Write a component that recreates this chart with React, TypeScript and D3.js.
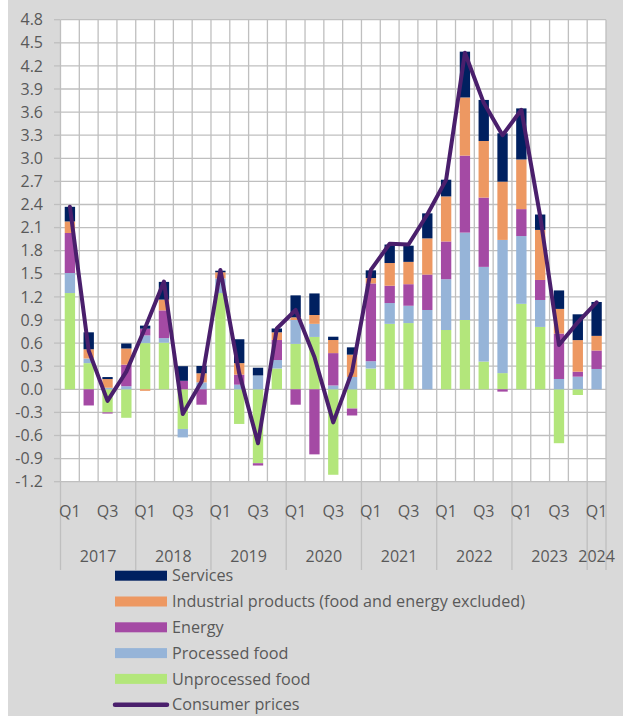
import React from "react";
import * as d3 from "d3";

const quarters = [
  "2017Q1","2017Q2","2017Q3","2017Q4",
  "2018Q1","2018Q2","2018Q3","2018Q4",
  "2019Q1","2019Q2","2019Q3","2019Q4",
  "2020Q1","2020Q2","2020Q3","2020Q4",
  "2021Q1","2021Q2","2021Q3","2021Q4",
  "2022Q1","2022Q2","2022Q3","2022Q4",
  "2023Q1","2023Q2","2023Q3","2023Q4",
  "2024Q1",
];
const quarterTickLabels = ["Q1", "", "Q3", ""];
const years = ["2017", "2018", "2019", "2020", "2021", "2022", "2023", "2024"];
const yTicks = [-1.2, -0.9, -0.6, -0.3, 0, 0.3, 0.6, 0.9, 1.2, 1.5, 1.8, 2.1, 2.4, 2.7, 3.0, 3.3, 3.6, 3.9, 4.2, 4.5, 4.8];

const unprocessedFood = [1.25, 0.34, -0.30, -0.37, 0.60, 0.605, -0.515, 0, 1.25, -0.45, -0.96, 0.27, 0.59, 0.68, -1.11, -0.25, 0.27, 0.85, 0.86, 0, 0.77, 0.90, 0.36, 0.21, 1.11, 0.81, -0.70, -0.074, 0];
const processedFood = [0.26, 0.06, 0.02, 0.04, 0.10, 0.06, -0.11, 0.09, 0.19, 0.06, 0.18, 0.11, 0.31, 0.17, 0.05, 0.16, 0.095, 0.27, 0.225, 1.03, 0.66, 1.135, 1.23, 1.73, 0.88, 0.35, 0.134, 0.164, 0.264];
const energy = [0.52, -0.21, -0.015, 0.28, 0.087, 0.36, 0.11, -0.20, 0, 0.13, -0.03, 0.26, -0.20, -0.845, 0.42, -0.09, 1.01, 0.225, 0.28, 0.46, 0.49, 1.0, 0.90, -0.03, 0.35, 0.26, 0.59, 0.065, 0.24];
const industrialProducts = [0.15, 0.12, 0.113, 0.21, -0.02, 0.14, 0, 0.118, 0.08, 0.15, 0, 0.10, 0.035, 0.115, 0.17, 0.29, 0.07, 0.295, 0.29, 0.47, 0.585, 0.755, 0.735, 0.757, 0.645, 0.65, 0.32, 0.41, 0.19];
const services = [0.19, 0.22, 0.026, 0.065, 0.04, 0.23, 0.19, 0.095, 0.02, 0.31, 0.10, 0.05, 0.285, 0.28, 0.043, 0.095, 0.10, 0.24, 0.21, 0.325, 0.217, 0.595, 0.533, 0.628, 0.663, 0.20, 0.24, 0.335, 0.44];
const consumerPrices = [2.37, 0.50, -0.15, 0.23, 0.80, 1.40, -0.32, 0.10, 1.55, 0.21, -0.70, 0.79, 1.03, 0.42, -0.43, 0.23, 1.55, 1.89, 1.88, 2.27, 2.72, 4.37, 3.72, 3.30, 3.63, 2.25, 0.575, 0.87, 1.13];

const seriesKeys = ["unprocessed", "processed", "energy", "industrial", "services"];
const seriesColors: Record<string, string> = {
  services: "#002060",
  industrial: "#ED9862",
  energy: "#A44AA4",
  processed: "#96B4D8",
  unprocessed: "#B3E67B",
};
const legendItems = [
  { key: "services", label: "Services" },
  { key: "industrial", label: "Industrial products (food and energy excluded)" },
  { key: "energy", label: "Energy" },
  { key: "processed", label: "Processed food" },
  { key: "unprocessed", label: "Unprocessed food" },
  { key: "line", label: "Consumer prices" },
];

const W = 628;
const H = 716;
const plotLeft = 60.5;
const plotRight = 606;
const plotTop = 19.7;
const plotBottom = 481.7;
const lineColor = "#4A1F6C";
const gridColor = "#BFBFBF";
const textColor = "#595959";
const font = "'Open Sans', Lato, 'DejaVu Sans', sans-serif";

export default function App() {
  const rows = quarters.map((q, i) => ({
    q,
    unprocessed: unprocessedFood[i],
    processed: processedFood[i],
    energy: energy[i],
    industrial: industrialProducts[i],
    services: services[i],
  }));

  const x = d3
    .scaleBand<string>()
    .domain(quarters)
    .range([plotLeft, plotRight])
    .paddingInner(0.45)
    .paddingOuter(0.225);
  const xb = d3.scaleLinear().domain([0, quarters.length]).range([plotLeft, plotRight]);
  const y = d3.scaleLinear().domain([-1.2, 4.8]).range([plotBottom, plotTop]);
  const bw = x.bandwidth();

  const stacked = d3
    .stack<any>()
    .keys(seriesKeys)
    .offset(d3.stackOffsetDiverging)(rows);

  const line = d3
    .line<number>()
    .x((_, i) => (x(quarters[i]) as number) + bw / 2)
    .y((d) => y(d));

  const yearBounds = [0, 4, 8, 12, 16, 20, 24, 28, 29];

  return (
    <svg width={W} height={H} style={{ position: "absolute", left: 0, top: 0 }} fontFamily={font}>
      <rect x={8} y={0} width={615} height={H} fill="#D9D9D9" />
      <rect x={plotLeft} y={plotTop} width={plotRight - plotLeft} height={plotBottom - plotTop} fill="#FFFFFF" />
      {yTicks.map((t) => (
        <line key={"h" + t} x1={plotLeft} x2={plotRight} y1={y(t)} y2={y(t)} stroke={gridColor} strokeWidth={1.3} />
      ))}
      {d3.range(quarters.length + 1).map((i) => (
        <line key={"v" + i} x1={xb(i)} x2={xb(i)} y1={plotTop} y2={plotBottom} stroke={gridColor} strokeWidth={1.3} />
      ))}
      {yTicks.map((t) => (
        <g key={"yt" + t}>
          <line x1={54} x2={plotLeft} y1={y(t)} y2={y(t)} stroke={gridColor} strokeWidth={1.3} />
          <text x={43} y={y(t)} dy="0.35em" textAnchor="end" fontSize={16} fill={textColor}>
            {t.toFixed(1)}
          </text>
        </g>
      ))}
      {yearBounds.map((b) => (
        <line key={"yb" + b} x1={xb(b)} x2={xb(b)} y1={plotBottom} y2={570} stroke={gridColor} strokeWidth={1.3} />
      ))}
      {quarters.map((q, i) => {
        const lab = quarterTickLabels[i % 4];
        if (!lab) return null;
        return (
          <text key={"ql" + q} x={(x(q) as number) + bw / 2} y={511} dy="0.35em" textAnchor="middle" fontSize={16} fill={textColor}>
            {lab}
          </text>
        );
      })}
      {years.map((yr, k) => (
        <text key={"yl" + yr} x={(xb(yearBounds[k]) + xb(yearBounds[k + 1])) / 2} y={556} dy="0.35em" textAnchor="middle" fontSize={16} fill={textColor}>
          {yr}
        </text>
      ))}
      {stacked.map((s) => (
        <g key={s.key} fill={seriesColors[s.key]}>
          {s.map((d, i) => {
            const y0 = y(d[0]);
            const y1 = y(d[1]);
            const h = Math.abs(y0 - y1);
            if (h < 0.01) return null;
            return <rect key={i} x={x(quarters[i])} y={Math.min(y0, y1)} width={bw} height={h} />;
          })}
        </g>
      ))}
      <path d={line(consumerPrices) as string} fill="none" stroke={lineColor} strokeWidth={4} strokeLinejoin="round" strokeLinecap="round" />
      {legendItems.map((it, k) => {
        const cy = 575.7 + k * 25.8;
        return (
          <g key={"lg" + it.key}>
            {it.key === "line" ? (
              <line x1={115} x2={167} y1={cy} y2={cy} stroke={lineColor} strokeWidth={4.5} strokeLinecap="round" />
            ) : (
              <rect x={115} y={cy - 5} width={52} height={10} fill={seriesColors[it.key]} />
            )}
            <text x={172} y={cy} dy="0.35em" fontSize={16.2} fill={textColor}>
              {it.label}
            </text>
          </g>
        );
      })}
    </svg>
  );
}
